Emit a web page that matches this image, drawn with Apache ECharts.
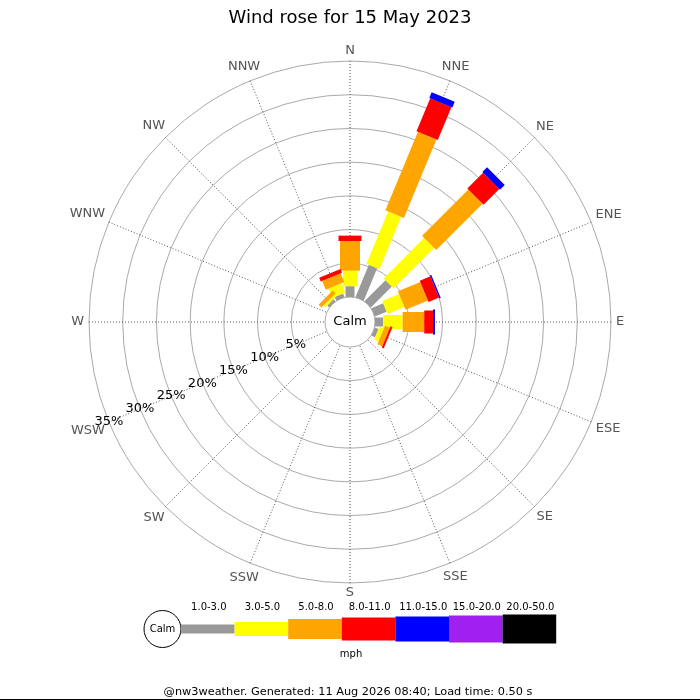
<!DOCTYPE html>
<html><head><meta charset="utf-8">
<script src="https://cdn.jsdelivr.net/npm/echarts@6/dist/echarts.min.js"></script>
<style>html,body{margin:0;padding:0;background:#fff}#c{width:700px;height:700px}</style>
</head><body><div id="c"></div>
<script>
// ---- data (percent of time per direction and speed band) ----
const directions = ['N','NNE','NE','ENE','E','ESE','SE','SSE','S','SSW','SW','WSW','W','WNW','NW','NNW'];
const speedBins  = ['1.0-3.0','3.0-5.0','5.0-8.0','8.0-11.0','11.0-15.0','15.0-20.0','20.0-50.0'];
const speed_1_3   = [1.6, 5.2, 4.4, 1.9, 1.2, 0.6, 0, 0, 0, 0, 0, 0, 0, 0, 0.4, 0.6];
const speed_3_5   = [2.3, 8.4, 8.5, 2.7, 2.9, 0.7, 0, 0, 0, 0, 0, 0, 0, 0, 0.4, 1.5];
const speed_5_8   = [4.4, 12.6, 9.7, 3.6, 3.2, 0.8, 0, 0, 0, 0, 0, 0, 0, 0, 0.6, 1.4];
const speed_8_11  = [0.8, 5.3, 3.3, 1.7, 1.3, 0.3, 0, 0, 0, 0, 0, 0, 0, 0, 0, 0.6];
const speed_11_15 = [0, 0.9, 1.0, 0.2, 0.3, 0, 0, 0, 0, 0, 0, 0, 0, 0, 0, 0];
const speed_15_20 = [0, 0, 0, 0, 0, 0, 0, 0, 0, 0, 0, 0, 0, 0, 0, 0];
const speed_20_50 = [0, 0, 0, 0, 0, 0, 0, 0, 0, 0, 0, 0, 0, 0, 0, 0];
const radiusMax = 35, radiusStep = 5;
const unitLabel = 'mph';
const titleText = 'Wind rose for 15 May 2023';
const footerText = '@nw3weather. Generated: 11 Aug 2026 08:40; Load time: 0.50 s';

// ---- styles ----
const binColors = ['#999999','#ffff00','#ffa500','#ff0000','#0000ff','#a020f0','#000000'];
const binWidths = [9, 14, 20, 23, 25, 27, 29];
const FONT = 'DejaVu Sans';
const CX = 350, CY = 322, R0 = 25, R1 = 261;
const LABEL_MARGIN = -40, LABEL_GAP = 5, LABEL_FS = 13, LABEL_HALF_H = 5;

const bins = [speed_1_3, speed_3_5, speed_5_8, speed_8_11, speed_11_15, speed_15_20, speed_20_50];
// angle value: 0 at WSW (where the radius axis sits), clockwise
const WSW = directions.indexOf('WSW');
const angleOf = i => (i - WSW + 16) % 16;

const cum = directions.map(() => 0);
const series = bins.map((vals, k) => {
  const data = [];
  vals.forEach((v, i) => {
    const base = cum[i];
    cum[i] += v;
    if (v > 0) data.push([cum[i], angleOf(i), base]);
  });
  const w = binWidths[k], color = binColors[k];
  return {
    type: 'custom', name: speedBins[k], coordinateSystem: 'polar',
    encode: { radius: 0, angle: 1 },
    data,
    renderItem(params, api) {
      const a = api.value(1), rb = api.value(2), rt = api.value(0);
      const cs = params.coordSys;
      const p0 = api.coord([rb, a]), p1 = api.coord([rt, a]);
      let ux = p1[0] - cs.cx, uy = p1[1] - cs.cy;
      const L = Math.hypot(ux, uy) || 1; ux /= L; uy /= L;
      const nx = -uy * w / 2, ny = ux * w / 2;
      return {
        type: 'polygon',
        shape: { points: [[p0[0]+nx, p0[1]+ny], [p1[0]+nx, p1[1]+ny], [p1[0]-nx, p1[1]-ny], [p0[0]-nx, p0[1]-ny]] },
        style: { fill: color, stroke: null }
      };
    }
  };
});

// ---- direction labels: place each text box just outside the outer ring ----
const mctx = document.createElement('canvas').getContext('2d');
mctx.font = LABEL_FS + 'px "' + FONT + '"';
const rich = {};
directions.forEach((name, i) => {
  const c = i * 22.5 * Math.PI / 180;
  const ux = Math.sin(c), uy = -Math.cos(c);
  const w = mctx.measureText(name).width, ht = LABEL_FS;
  const h = Math.abs(ux) * w / 2 + Math.abs(uy) * LABEL_HALF_H;
  const d = (LABEL_GAP - LABEL_MARGIN) + h;
  const Dx = d * ux, Dy = d * uy;
  const hAlign = Math.abs(ux) < 0.3 ? 'center' : (ux > 0 ? 'left' : 'right');
  const vAlign = Math.abs(uy) < 0.3 ? 'middle' : (uy > 0 ? 'top' : 'bottom');
  let pl = 0, pr = 0, pt = 0, pb = 0;
  if (hAlign === 'left') pl = Math.max(0, Dx - w / 2);
  else if (hAlign === 'right') pr = Math.max(0, -Dx - w / 2);
  else { if (Dx > 0) pl = 2 * Dx; else pr = -2 * Dx; }
  if (vAlign === 'top') pt = Math.max(0, Dy - ht / 2);
  else if (vAlign === 'bottom') pb = Math.max(0, -Dy - ht / 2);
  else { if (Dy > 0) pt = 2 * Dy; else pb = -2 * Dy; }
  rich['d' + i] = { padding: [pt, pr, pb, pl], fontSize: LABEL_FS, fontFamily: FONT, color: '#555' };
});

// ---- legend graphic built from bins ----
const graphic = [];
const LX0 = 181, LSTEP = 53.6, LCY = 629;
graphic.push({ type: 'circle', shape: { cx: 162.5, cy: LCY, r: 18.5 }, style: { fill: '#fff', stroke: '#000', lineWidth: 1 } });
graphic.push({ type: 'text', x: 162.5, y: LCY, style: { text: 'Calm', font: '10px "' + FONT + '"', fill: '#000', align: 'center', verticalAlign: 'middle' } });
speedBins.forEach((name, k) => {
  const x = LX0 + k * LSTEP;
  graphic.push({ type: 'rect', shape: { x: x, y: LCY - binWidths[k] / 2, width: LSTEP, height: binWidths[k] }, style: { fill: binColors[k] } });
  graphic.push({ type: 'text', x: x + LSTEP / 2 + 1, y: 607, style: { text: name, font: '10px "' + FONT + '"', fill: '#000', align: 'center', verticalAlign: 'middle' } });
});
graphic.push({ type: 'text', x: 351, y: 654, style: { text: unitLabel, font: '10px "' + FONT + '"', fill: '#000', align: 'center', verticalAlign: 'middle' } });
graphic.push({ type: 'text', x: CX, y: CY, style: { text: 'Calm', font: '13px "' + FONT + '"', fill: '#000', align: 'center', verticalAlign: 'middle' } });
graphic.push({ type: 'text', x: 348, y: 692, style: { text: footerText, font: '11.3px "' + FONT + '"', fill: '#000', align: 'center', verticalAlign: 'middle' } });
graphic.push({ type: 'line', shape: { x1: 0, y1: 699.5, x2: 700, y2: 699.5 }, style: { stroke: '#000', lineWidth: 1 } });

const chart = echarts.init(document.getElementById('c'), null, { renderer: 'canvas' });
chart.setOption({
  backgroundColor: '#fff',
  animation: false,
  title: { text: titleText, left: 'center', top: 4, textStyle: { fontFamily: FONT, fontSize: 18, fontWeight: 'normal', color: '#000' } },
  polar: { center: [CX, CY], radius: [R0, R1] },
  angleAxis: {
    type: 'value', min: 0, max: 16, interval: 1, startAngle: 202.5, clockwise: true,
    axisLine: { show: false }, axisTick: { show: false },
    axisLabel: { show: true, margin: LABEL_MARGIN, color: '#555', fontFamily: FONT, fontSize: LABEL_FS,
      formatter: v => { const i = (Math.round(v) + WSW) % 16; return '{d' + i + '|' + directions[i] + '}'; },
      rich },
    splitLine: { show: true, lineStyle: { color: '#555', type: [1, 2], width: 1 } }
  },
  radiusAxis: {
    type: 'value', min: 0, max: radiusMax, interval: radiusStep,
    axisLine: { show: false }, axisTick: { show: false },
    axisLabel: { show: true, margin: 0, align: 'center', verticalAlign: 'middle', padding: [6, 0, 0, 0], color: '#000', fontFamily: FONT, fontSize: 13,
      formatter: v => v === 0 ? '' : v + '%' },
    splitLine: { show: true, lineStyle: { color: '#aaaaaa', width: 1, type: 'solid' } }
  },
  graphic,
  series
});
</script></body></html>
